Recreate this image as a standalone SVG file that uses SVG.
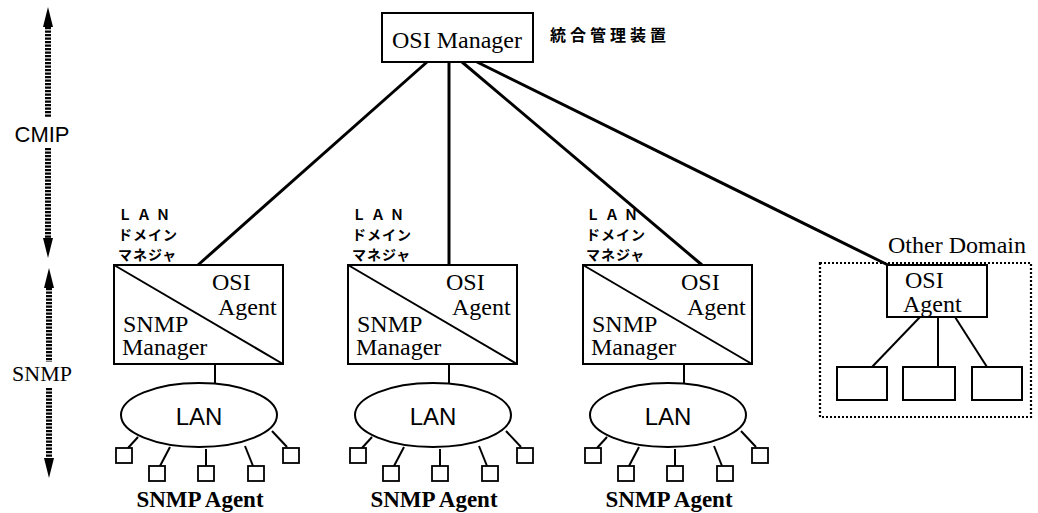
<svg xmlns="http://www.w3.org/2000/svg" width="1038" height="513" viewBox="0 0 1038 513">
<defs>
<style>
.bx{fill:#fff;stroke:#000;stroke-width:2}
.ln{stroke:#000;stroke-width:3;fill:none}
.thin{stroke:#000;stroke-width:2;fill:none}
.sq{fill:#fff;stroke:#000;stroke-width:1.8}
.serif{font-family:"Liberation Serif","Times New Roman",serif;fill:#000}
.sans{font-family:"Liberation Sans",Arial,sans-serif;fill:#000}
.jp{font-family:"Noto Sans CJK JP","Noto Sans CJK SC",sans-serif;fill:#000;font-weight:bold}
.dots{stroke:#000;stroke-width:6;stroke-dasharray:2.2 1.3;fill:none}
</style>
<g id="lan-group">
<rect class="bx" x="0" y="0" width="169" height="99"/>
<line class="thin" x1="0" y1="0" x2="169" y2="99"/>
<text class="serif" x="98" y="25" font-size="24">OSI</text>
<text class="serif" x="104" y="50" font-size="24">Agent</text>
<text class="serif" x="9" y="67" font-size="24">SNMP</text>
<text class="serif" x="8" y="90" font-size="24">Manager</text>
<line class="thin" x1="101" y1="99" x2="101" y2="118"/>
<ellipse class="bx" cx="85" cy="150" rx="78" ry="32"/>
<text class="sans" x="85" y="160" font-size="24" text-anchor="middle">LAN</text>
<line class="thin" x1="14" y1="183" x2="24" y2="172"/>
<line class="thin" x1="46" y1="201" x2="56" y2="182"/>
<line class="thin" x1="92" y1="201" x2="92" y2="184"/>
<line class="thin" x1="139" y1="201" x2="131" y2="181"/>
<line class="thin" x1="173" y1="182" x2="158" y2="166"/>
<rect class="sq" x="2" y="183" width="16" height="15"/>
<rect class="sq" x="35" y="201" width="16" height="15"/>
<rect class="sq" x="84" y="201" width="16" height="15"/>
<rect class="sq" x="134" y="201" width="16" height="15"/>
<rect class="sq" x="169" y="183" width="16" height="15"/>
<text class="serif" x="86" y="242" font-size="23" font-weight="bold" text-anchor="middle">SNMP Agent</text>
</g>
</defs>

<g id="protocol-axis">
<polygon points="48,7 43,27 53,27" fill="#000"/>
<line class="dots" x1="48" y1="27" x2="48" y2="117"/>
<text class="sans" x="42" y="142" font-size="22" text-anchor="middle">CMIP</text>
<line class="dots" x1="48" y1="148" x2="48" y2="238"/>
<polygon points="48,258 43,238 53,238" fill="#000"/>
<polygon points="49,268 44,288 54,288" fill="#000"/>
<line class="dots" x1="49" y1="288" x2="49" y2="362"/>
<text class="serif" x="42" y="381" font-size="22" text-anchor="middle">SNMP</text>
<line class="dots" x1="49" y1="388" x2="49" y2="458"/>
<polygon points="49,478 44,458 54,458" fill="#000"/>
</g>

<g id="connectors">
<line class="ln" x1="427" y1="62" x2="198" y2="265"/>
<line class="ln" x1="449" y1="62" x2="449" y2="265"/>
<line class="ln" x1="462" y1="62" x2="702" y2="265"/>
<line class="ln" x1="477" y1="62" x2="888" y2="265"/>
<line class="thin" x1="920" y1="317" x2="872" y2="367"/>
<line class="thin" x1="938" y1="317" x2="938" y2="367"/>
<line class="thin" x1="955" y1="317" x2="987" y2="367"/>
</g>

<g id="osi-manager">
<rect class="bx" x="382" y="13" width="151" height="49"/>
<text class="serif" x="457" y="48" font-size="24" text-anchor="middle">OSI Manager</text>
<text class="jp" x="550" y="41" font-size="16" letter-spacing="4">統合管理装置</text>
</g>

<g id="lan-domain-1">
<text class="jp" x="118" y="220" font-size="14" letter-spacing="5">ＬＡＮ</text>
<text class="jp" x="118" y="240" font-size="14" letter-spacing="1">ドメイン</text>
<text class="jp" x="118" y="260" font-size="14" letter-spacing="1">マネジャ</text>
<use href="#lan-group" x="114" y="265"/>
</g>
<g id="lan-domain-2">
<text class="jp" x="352" y="220" font-size="14" letter-spacing="5">ＬＡＮ</text>
<text class="jp" x="352" y="240" font-size="14" letter-spacing="1">ドメイン</text>
<text class="jp" x="352" y="260" font-size="14" letter-spacing="1">マネジャ</text>
<use href="#lan-group" x="348" y="265"/>
</g>
<g id="lan-domain-3">
<text class="jp" x="586" y="220" font-size="14" letter-spacing="5">ＬＡＮ</text>
<text class="jp" x="586" y="240" font-size="14" letter-spacing="1">ドメイン</text>
<text class="jp" x="586" y="260" font-size="14" letter-spacing="1">マネジャ</text>
<use href="#lan-group" x="583" y="265"/>
</g>

<g id="other-domain">
<rect x="820" y="263" width="211" height="154" fill="none" stroke="#000" stroke-width="2.2" stroke-dasharray="2 2"/>
<text class="serif" x="888" y="253" font-size="24">Other Domain</text>
<rect class="bx" x="887" y="265" width="100" height="52"/>
<text class="serif" x="905" y="288" font-size="24">OSI</text>
<text class="serif" x="903" y="312" font-size="24">Agent</text>
<rect class="bx" x="837" y="367" width="50" height="33"/>
<rect class="bx" x="903" y="367" width="52" height="33"/>
<rect class="bx" x="972" y="367" width="50" height="33"/>
</g>
</svg>
